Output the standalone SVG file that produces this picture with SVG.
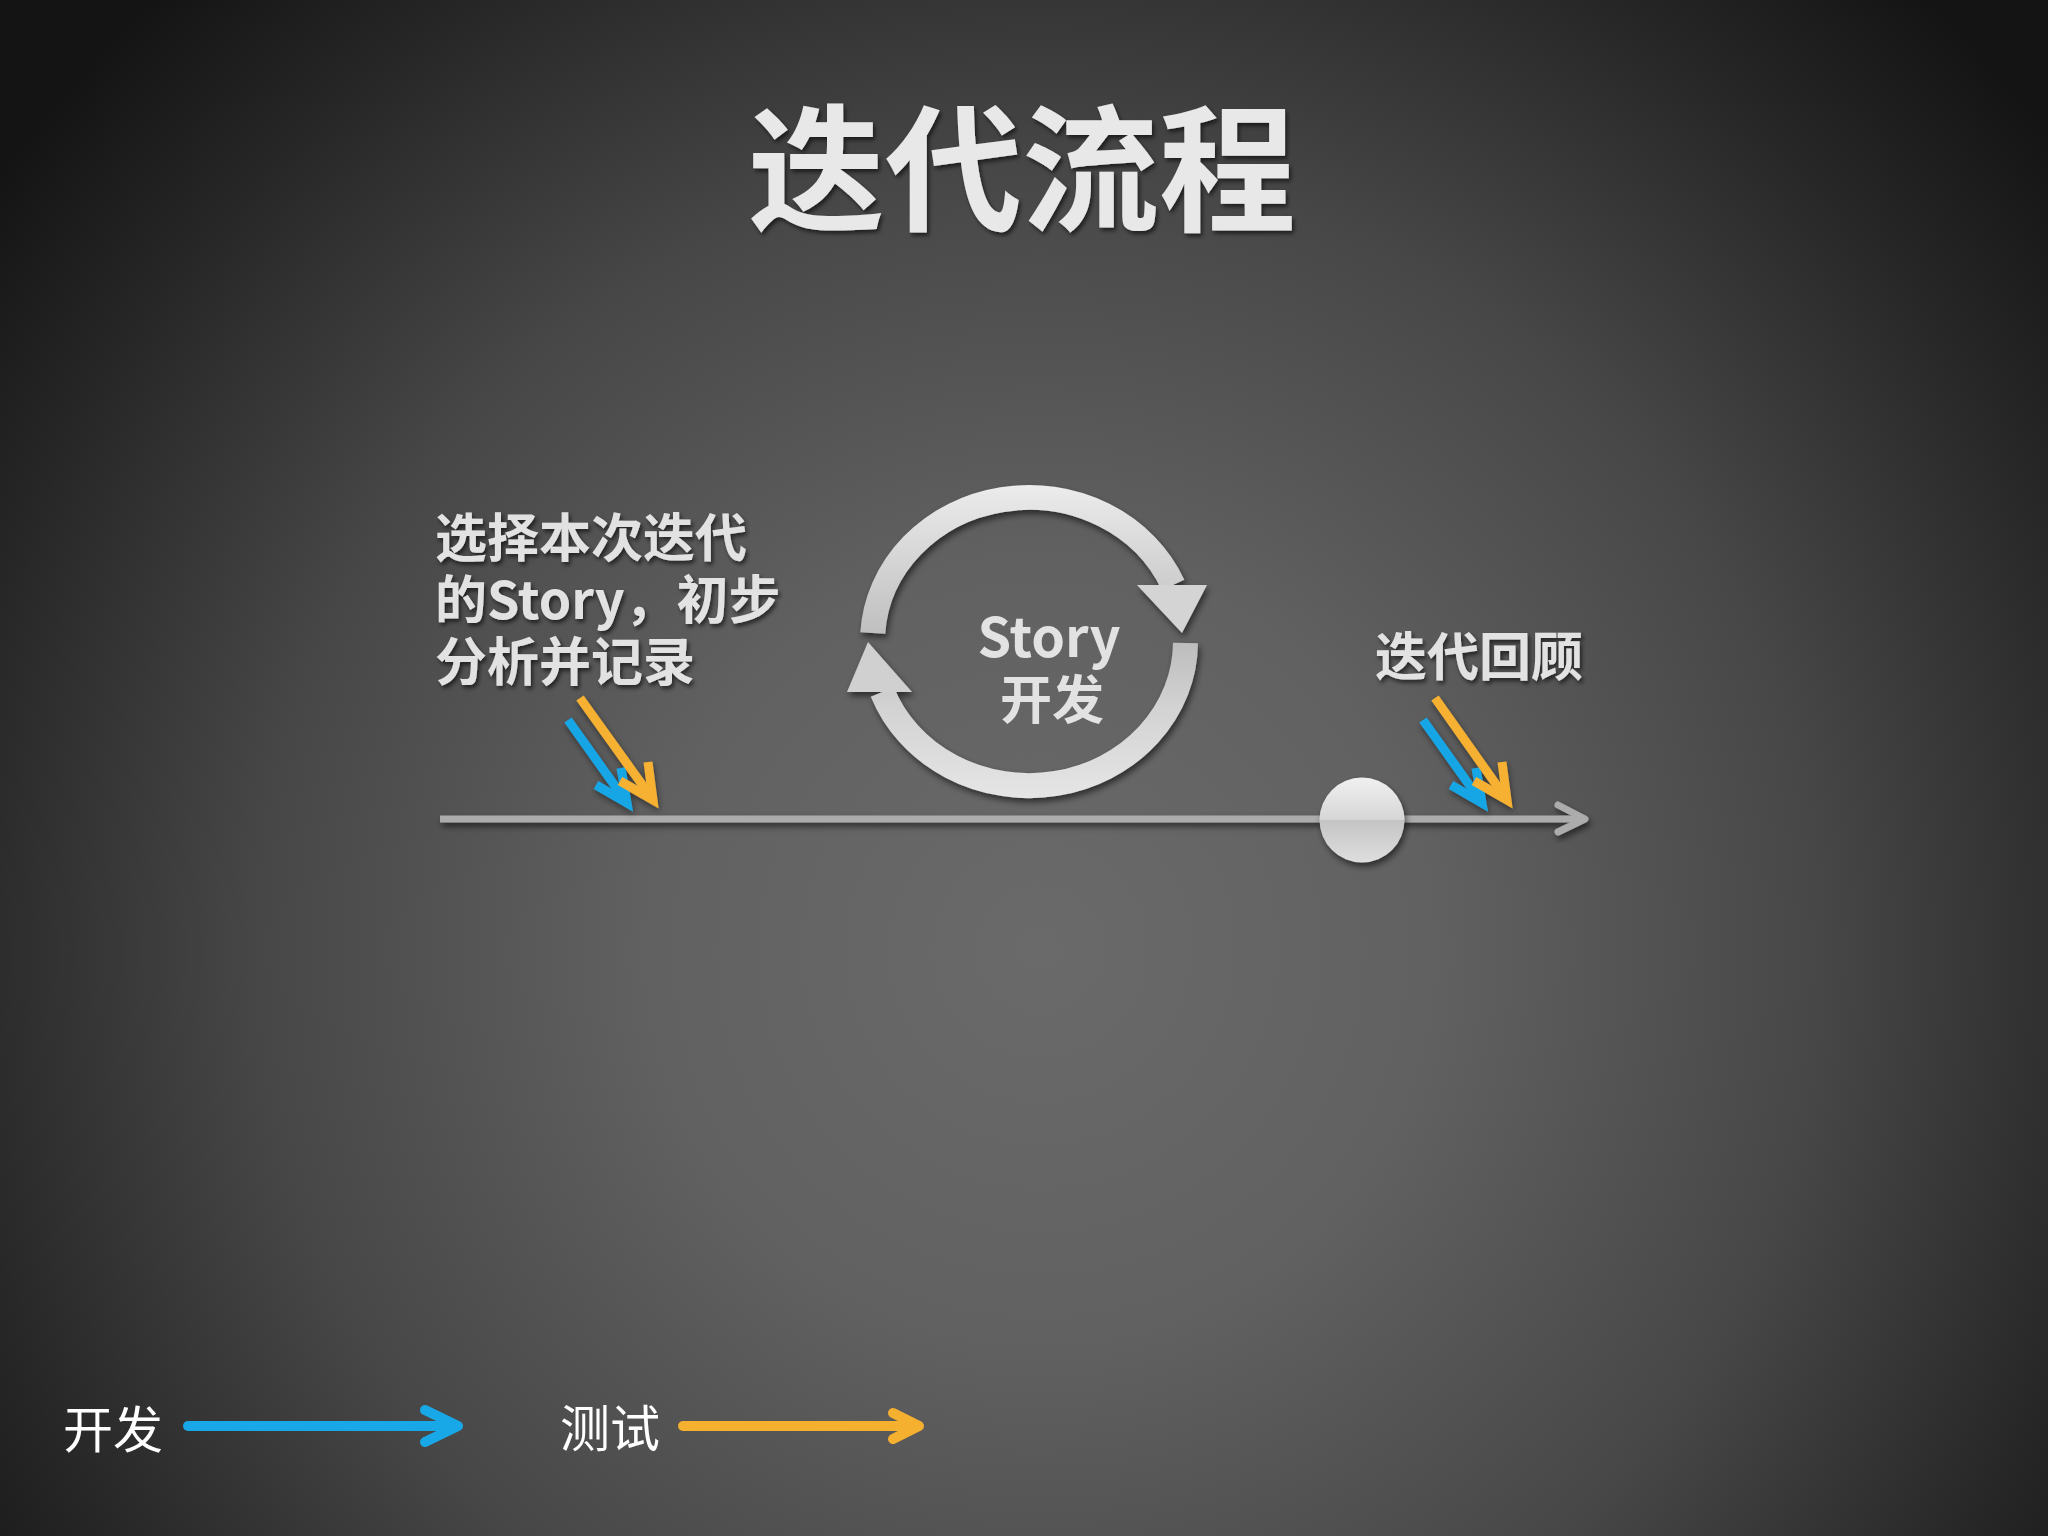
<svg xmlns="http://www.w3.org/2000/svg" width="2048" height="1536" viewBox="0 0 2048 1536">
  <defs>
    <radialGradient id="bg" gradientUnits="userSpaceOnUse" cx="1040" cy="950" r="1300">
      <stop offset="0" stop-color="#6b6a6b"/>
      <stop offset="0.3" stop-color="#626162"/>
      <stop offset="0.6" stop-color="#474747"/>
      <stop offset="0.85" stop-color="#262626"/>
      <stop offset="1" stop-color="#141414"/>
    </radialGradient>
    <linearGradient id="ring" gradientUnits="userSpaceOnUse" x1="0" y1="485" x2="0" y2="800">
      <stop offset="0" stop-color="#ececec"/>
      <stop offset="0.3" stop-color="#cfcfcf"/>
      <stop offset="0.5" stop-color="#bdbdbd"/>
      <stop offset="0.7" stop-color="#d2d2d2"/>
      <stop offset="1" stop-color="#e6e6e6"/>
    </linearGradient>
    <linearGradient id="ball" x1="0" y1="0" x2="0" y2="1">
      <stop offset="0" stop-color="#f0f0f0"/>
      <stop offset="0.5" stop-color="#d6d6d6"/>
      <stop offset="0.5" stop-color="#c4c4c4"/>
      <stop offset="1" stop-color="#dedede"/>
    </linearGradient>
    <filter id="shadow" x="-20%" y="-20%" width="140%" height="160%">
      <feDropShadow dx="2" dy="4" stdDeviation="3" flood-color="#000" flood-opacity="0.55"/>
    </filter>
    <filter id="tshadow" x="-10%" y="-10%" width="120%" height="130%">
      <feDropShadow dx="2" dy="3" stdDeviation="2" flood-color="#000" flood-opacity="0.6"/>
    </filter>
    <filter id="glow" x="-30%" y="-30%" width="160%" height="160%">
      <feDropShadow dx="1" dy="3" stdDeviation="3" flood-color="#000" flood-opacity="0.45"/>
    </filter>
    <style>
      .title { font-family: "Noto Sans CJK SC", "Liberation Sans", sans-serif; font-weight: 700; font-size: 137px; fill: #e8e8e8; }
      .label { font-family: "Noto Sans CJK SC", "Liberation Sans", sans-serif; font-weight: 700; font-size: 52px; fill: #e2e2e2; }
      .legend { font-family: "Noto Sans CJK SC", "Liberation Sans", sans-serif; font-weight: 400; font-size: 50px; fill: #ffffff; }
      .dev { stroke: #19a6e6; fill: none; stroke-width: 9; stroke-linecap: butt; stroke-linejoin: miter; }
      .test { stroke: #f6b133; fill: none; stroke-width: 9; stroke-linecap: butt; stroke-linejoin: miter; }
      .ldev { stroke: #18a8e8; fill: none; stroke-width: 10; stroke-linecap: round; stroke-linejoin: round; }
      .ltest { stroke: #f5b030; fill: none; stroke-width: 10; stroke-linecap: round; stroke-linejoin: round; }
      .tl { stroke: #acacac; fill: none; stroke-width: 7; }
      .ringarc { stroke: url(#ring); fill: none; stroke-width: 25; }
    </style>
  </defs>

  <rect x="0" y="0" width="2048" height="1536" fill="url(#bg)"/>

  <g id="title" filter="url(#tshadow)">
    <text class="title" x="1022" y="221" text-anchor="middle">迭代流程</text>
  </g>

  <g id="connectors">
    <g id="timeline" filter="url(#shadow)">
      <line class="tl" x1="440" y1="819" x2="1584" y2="819"/>
      <polyline class="tl" points="1558,805 1585,819 1558,832" stroke-linecap="round" stroke-linejoin="round" stroke-width="9"/>
    </g>
    <g id="arrows-start" filter="url(#glow)">
      <line class="dev" x1="568" y1="720" x2="625" y2="800"/>
      <polyline class="dev" points="596,785 627,803 621,768"/>
      <line class="test" x1="580" y1="698" x2="651" y2="797"/>
      <polyline class="test" points="620,781 653,800 648,762"/>
    </g>
    <g id="arrows-end" filter="url(#glow)">
      <line class="dev" x1="1423" y1="720" x2="1480" y2="800"/>
      <polyline class="dev" points="1451,785 1482,803 1476,768"/>
      <line class="test" x1="1435" y1="698" x2="1505" y2="797"/>
      <polyline class="test" points="1474,781 1507,800 1502,762"/>
    </g>
  </g>

  <g id="node-start">
    <text class="label" filter="url(#tshadow)" x="435" y="557">选择本次迭代</text>
    <text class="label" filter="url(#tshadow)" x="435" y="619">的Story，初步</text>
    <text class="label" filter="url(#tshadow)" x="435" y="681">分析并记录</text>
  </g>

  <g id="node-cycle" filter="url(#shadow)">
    <path class="ringarc" d="M 872.8 633 A 156.5 144 0 0 1 1173 585"/>
    <polygon points="1137,585 1207,585 1182,633" fill="#d4d4d4"/>
    <path class="ringarc" d="M 1185.5 643 A 156.5 144 0 0 1 882.4 692"/>
    <polygon points="847,692 912,692 868,642" fill="#d0d0d0"/>
  </g>
  <g id="node-cycle-label">
    <text class="label" x="1049" y="657" text-anchor="middle" style="font-size:54px" fill="#dcdcdc">Story</text>
    <text class="label" x="1052" y="719" text-anchor="middle">开发</text>
  </g>

  <g id="node-milestone" filter="url(#shadow)">
    <circle cx="1362" cy="820" r="42.5" fill="url(#ball)"/>
  </g>

  <g id="node-review">
    <text class="label" filter="url(#tshadow)" x="1375" y="676">迭代回顾</text>
  </g>

  <g id="legend">
    <text class="legend" x="63" y="1448">开发</text>
    <line class="ldev" x1="188" y1="1426" x2="457" y2="1426"/>
    <polyline class="ldev" points="425,1410 458,1426 425,1442"/>
    <text class="legend" x="560" y="1447">测试</text>
    <line class="ltest" x1="683" y1="1426" x2="918" y2="1426"/>
    <polyline class="ltest" points="893,1413 919,1426 893,1439"/>
  </g>
</svg>
